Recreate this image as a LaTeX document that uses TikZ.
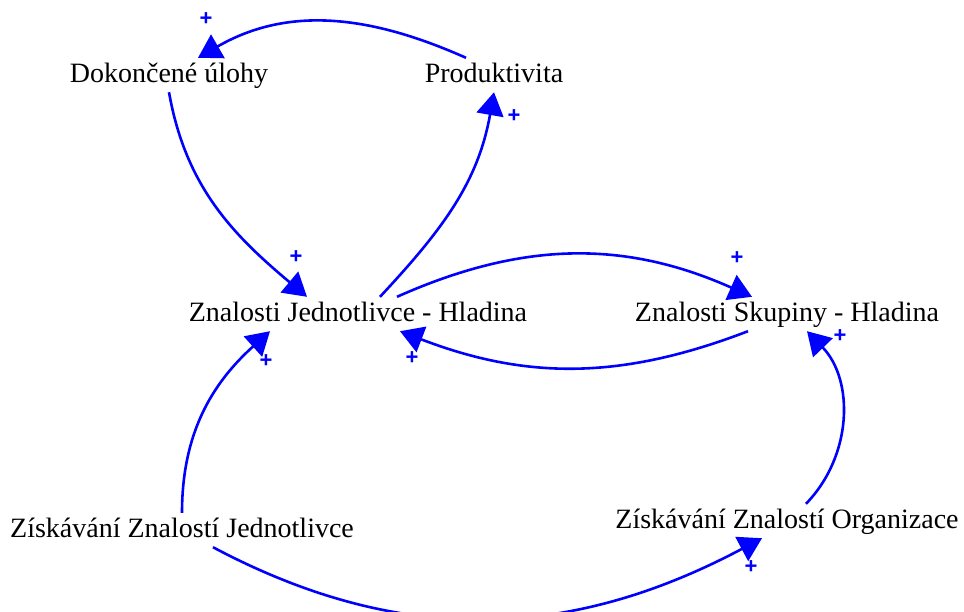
\documentclass[tikz,border=0pt]{standalone}
\usepackage{fontspec}
\setmainfont{Liberation Serif}
\newfontfamily\signfont{Liberation Sans}
\usetikzlibrary{arrows.meta}

\begin{document}
\begin{tikzpicture}[x=1pt,y=1pt,
    var/.style={font=\fontsize{28}{32}\selectfont, inner sep=4pt,
                text height=20pt, text depth=6pt, anchor=base},
    link/.style={blue, line width=2.6pt, -{Triangle[length=23pt,width=27pt]}},
    sign/.style={blue, font=\signfont\bfseries\fontsize{22}{22}\selectfont, inner sep=0pt}]
    \useasboundingbox (0,0) rectangle (964,-611);
    % variables
    \node[var] (dok)  at (169,-82)  {Dokončené úlohy};
    \node[var] (prod) at (494,-82)  {Produktivita};
    \node[var] (zjh)  at (358,-321) {Znalosti Jednotlivce - Hladina};
    \node[var] (zsh)  at (787,-321) {Znalosti Skupiny - Hladina};
    \node[var] (zzj)  at (182,-537) {Získávání Znalostí Jednotlivce};
    \node[var] (zzo)  at (787,-528) {Získávání Znalostí Organizace};
    % links
    \draw[link] ([xshift=-28pt]prod.north) to[out=156,in=30] ([xshift=29pt]dok.north);
    \draw[link] (dok.south) to[out=-80,in=140] ([xshift=-51pt]zjh.north);
    \draw[link] ([xshift=22pt]zjh.north) to[out=47,in=260] (prod.south);
    \draw[link] ([xshift=39pt]zjh.north) to[out=24,in=156] ([xshift=-35pt]zsh.north);
    \draw[link] ([xshift=-39pt]zsh.south) to[out=201,in=-21] ([xshift=42pt]zjh.south);
    \draw[link] ([xshift=19pt]zzo.north) to[out=46,in=-46] ([xshift=20pt]zsh.south);
    \draw[link] (zzj.north) to[out=90,in=222] ([xshift=-88pt]zjh.south);
    \draw[link] ([xshift=31pt]zzj.south) to[out=-28,in=208] ([xshift=-25pt]zzo.south);
    % polarities
    \node[sign] (s1) at (206,-19)  {+};
    \node[sign] (s2) at (296,-257) {+};
    \node[sign] (s3) at (514,-116) {+};
    \node[sign] (s4) at (737,-258) {+};
    \node[sign] (s5) at (412,-358) {+};
    \node[sign] (s6) at (840,-336) {+};
    \node[sign] (s7) at (266,-361) {+};
    \node[sign] (s8) at (751,-567) {+};
\end{tikzpicture}
\end{document}
